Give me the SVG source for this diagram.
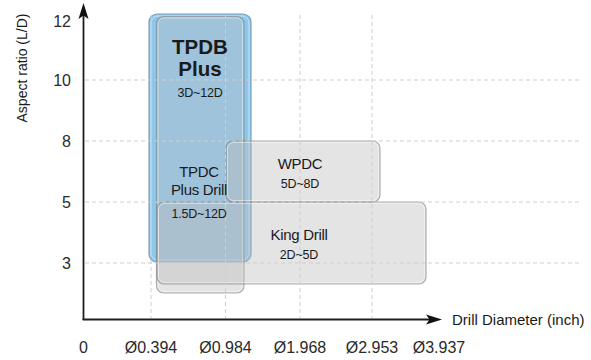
<svg xmlns="http://www.w3.org/2000/svg" width="591" height="360" viewBox="0 0 591 360">
<style>
.grid{stroke:#cfcfcf;stroke-width:1;stroke-dasharray:4 3;fill:none}
.axis{stroke:#1e1e1e;stroke-width:1.8;fill:none}
.ah{fill:#111}
.gbox{fill:#bcbcbc;fill-opacity:0.4;stroke:#7e7e7e;stroke-opacity:0.6;stroke-width:1.2}
.ghi{fill:none;stroke:#ffffff;stroke-opacity:0.45;stroke-width:1}
.t{font-family:"Liberation Sans",Arial,sans-serif;fill:#1a1a1a}
.tick{font-size:16px;fill:#2a2a2a}
.lab{font-size:15px;letter-spacing:-0.3px;text-anchor:middle}
.rng{font-size:12.5px;letter-spacing:-0.2px;text-anchor:middle}
</style>
<rect width="591" height="360" fill="#ffffff"/>
<g id="blue-tpdb">
<rect x="149" y="14" width="102" height="248" rx="8" fill="#8cc8ee" stroke="#7f9fb6" stroke-width="1.2"/>
<rect x="151" y="16" width="98" height="244" rx="7" fill="none" stroke="#c2e2f6" stroke-width="1"/>
</g>
<g id="tpdc">
<rect class="gbox" x="156.5" y="16.5" width="87.5" height="276.5" rx="7"/>
<rect class="ghi" x="158" y="18" width="84.5" height="273.5" rx="6"/>
</g>
<g id="king-drill">
<rect class="gbox" x="157" y="202" width="269" height="82" rx="7"/>
<rect class="ghi" x="158.5" y="203.5" width="266" height="79" rx="6"/>
</g>
<g id="wpdc">
<rect class="gbox" x="226" y="141" width="154" height="61" rx="7"/>
<rect class="ghi" x="227.5" y="142.5" width="151" height="58" rx="6"/>
</g>
<g id="grid">
<line class="grid" x1="85" y1="80" x2="580" y2="80"/>
<line class="grid" x1="85" y1="141" x2="580" y2="141"/>
<line class="grid" x1="85" y1="202" x2="580" y2="202"/>
<line class="grid" x1="85" y1="263" x2="580" y2="263"/>
<line class="grid" x1="151" y1="15" x2="151" y2="318"/>
<line class="grid" x1="225.5" y1="15" x2="225.5" y2="318"/>
<line class="grid" x1="300" y1="15" x2="300" y2="318"/>
<line class="grid" x1="372" y1="15" x2="372" y2="318"/>
</g>
<g id="axes">
<line class="axis" x1="83.5" y1="320" x2="83.5" y2="14"/>
<polygon class="ah" points="83.5,3 88.5,19 83.5,15.5 78.5,19"/>
<line class="axis" x1="82.6" y1="319.5" x2="432" y2="319.5"/>
<polygon class="ah" points="442,319.5 426,314.5 429.5,319.5 426,324.5"/>
</g>
<g id="labels">
<text class="t" x="26.5" y="68" font-size="14" text-anchor="middle" transform="rotate(-90 26.5 68)">Aspect ratio (L/D)</text>
<text class="t tick" x="71" y="27" text-anchor="end">12</text>
<text class="t tick" x="71" y="86" text-anchor="end">10</text>
<text class="t tick" x="71" y="147" text-anchor="end">8</text>
<text class="t tick" x="71" y="208" text-anchor="end">5</text>
<text class="t tick" x="71" y="269" text-anchor="end">3</text>
<text class="t tick" x="83.5" y="353" text-anchor="middle">0</text>
<text class="t tick" x="151" y="353" text-anchor="middle">Ø0.394</text>
<text class="t tick" x="225.5" y="353" text-anchor="middle">Ø0.984</text>
<text class="t tick" x="300" y="353" text-anchor="middle">Ø1.968</text>
<text class="t tick" x="372" y="353" text-anchor="middle">Ø2.953</text>
<text class="t tick" x="439" y="353" text-anchor="middle">Ø3.937</text>
<text class="t" x="452" y="325" font-size="15">Drill Diameter (inch)</text>
</g>
<g id="box-text">
<text class="t" x="200" y="54" font-size="20.5" font-weight="bold" text-anchor="middle">TPDB</text>
<text class="t" x="200" y="76" font-size="20.5" font-weight="bold" text-anchor="middle">Plus</text>
<text class="t rng" x="200" y="97">3D~12D</text>
<text class="t lab" x="199" y="177">TPDC</text>
<text class="t lab" x="199" y="195">Plus Drill</text>
<text class="t rng" x="199" y="218">1.5D~12D</text>
<text class="t lab" x="300" y="169">WPDC</text>
<text class="t rng" x="300" y="188">5D~8D</text>
<text class="t lab" x="299" y="240">King Drill</text>
<text class="t rng" x="299" y="259">2D~5D</text>
</g>
</svg>
